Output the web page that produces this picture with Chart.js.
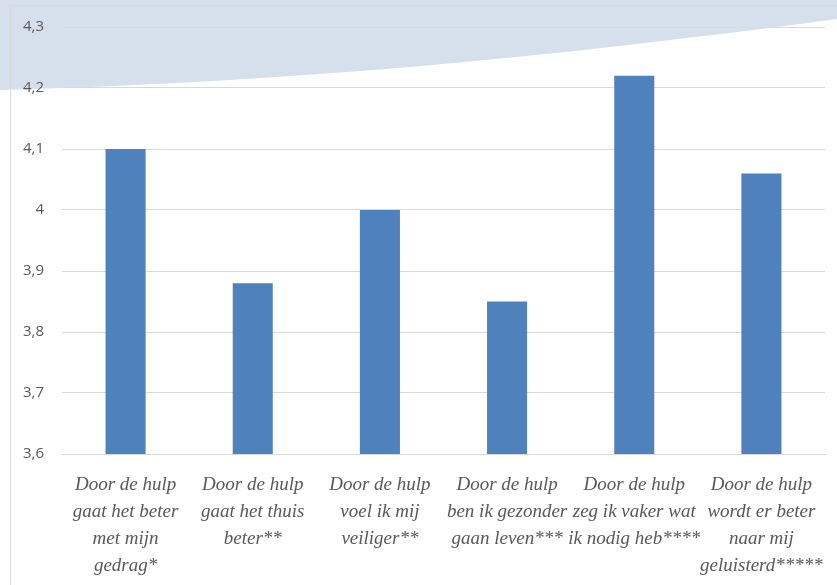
<!DOCTYPE html>
<html>
<head>
<meta charset="utf-8">
<script src="https://cdn.jsdelivr.net/npm/chart.js@4"></script>
<style>
  html, body { margin: 0; padding: 0; background: #ffffff; }
  #wrap { width: 837px; height: 585px; position: relative; }
</style>
</head>
<body>
<div id="wrap"><canvas id="c" width="837" height="585"></canvas></div>
<script>
// Statements (multi-line labels) and mean scores
const categories = [
  ["Door de hulp", "gaat het beter", "met mijn", "gedrag*"],
  ["Door de hulp", "gaat het thuis", "beter**"],
  ["Door de hulp", "voel ik mij", "veiliger**"],
  ["Door de hulp", "ben ik gezonder", "gaan leven***"],
  ["Door de hulp", "zeg ik vaker wat", "ik nodig heb****"],
  ["Door de hulp", "wordt er beter", "naar mij", "geluisterd*****"]
];
const scores = [4.10, 3.88, 4.00, 3.85, 4.22, 4.06];
const yTicks = [3.6, 3.7, 3.8, 3.9, 4.0, 4.1, 4.2, 4.3];

// Background decoration: pale blue swoosh at the top and a thin frame
const backdrop = {
  id: 'backdrop',
  beforeDraw(chart) {
    const ctx = chart.ctx;
    const w = chart.width;
    ctx.save();
    ctx.fillStyle = '#d6dfec';
    ctx.beginPath();
    ctx.moveTo(0, 0);
    ctx.lineTo(w, 0);
    ctx.lineTo(w, 19);
    ctx.bezierCurveTo(w * 0.65, 58, w * 0.35, 82, 0, 90);
    ctx.closePath();
    ctx.fill();
    ctx.strokeStyle = '#d9d9d9';
    ctx.lineWidth = 1;
    ctx.beginPath();
    ctx.moveTo(10.5, chart.height);
    ctx.lineTo(10.5, 5.5);
    ctx.lineTo(w, 5.5);
    ctx.stroke();
    ctx.restore();
  }
};

new Chart(document.getElementById('c'), {
  type: 'bar',
  data: {
    labels: categories,
    datasets: [{
      data: scores,
      backgroundColor: '#4f81bd',
      borderWidth: 0,
      barPercentage: 0.63,
      categoryPercentage: 0.5
    }]
  },
  options: {
    responsive: false,
    animation: false,
    layout: { padding: { top: 20, right: 12, bottom: 0, left: 0 } },
    plugins: { legend: { display: false }, tooltip: { enabled: false } },
    scales: {
      x: {
        grid: { display: false, drawTicks: false },
        border: { display: true, color: '#d9d9d9', width: 1 },
        ticks: {
          color: '#595959',
          font: { family: "'Liberation Serif', serif", style: 'italic', size: 19, lineHeight: 1.42 },
          padding: 18,
          maxRotation: 0,
          autoSkip: false
        },
        afterFit(scale) {
          scale.height = 131;
          scale.paddingLeft = 0;
          scale.paddingRight = 0;
        }
      },
      y: {
        min: 3.6,
        max: 4.3,
        afterBuildTicks(scale) { scale.ticks = yTicks.map(v => ({ value: v })); },
        grid: { color: '#d9d9d9', lineWidth: 1, drawTicks: false },
        border: { display: false },
        ticks: {
          color: '#595959',
          font: { family: "'Open Sans', sans-serif", size: 15 },
          padding: 18,
          callback: v => String(Math.round(v * 10) / 10).replace('.', ',')
        },
        afterFit(scale) { scale.width = 62; }
      }
    }
  },
  plugins: [backdrop]
});
</script>
</body>
</html>
